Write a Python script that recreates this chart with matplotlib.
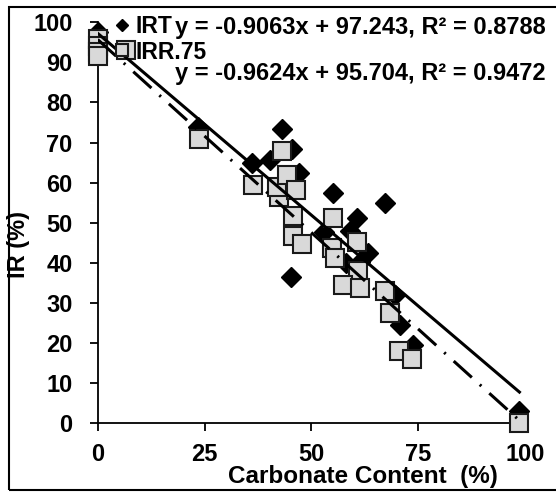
import numpy as np
import matplotlib.pyplot as plt
from matplotlib.patches import Rectangle

plt.rcParams["font.family"] = ["Liberation Sans", "DejaVu Sans"]
plt.rcParams["font.weight"] = "bold"

# IR total vs carbonate content
irt_x = [0, 23.5, 36.2, 40.4, 43.2, 45.5, 47.2, 45.3, 55.1, 60.7, 67.3,
         53.0, 59.0, 58.0, 61.4, 63.3, 69.5, 70.8, 73.9, 98.7]
irt_y = [97.5, 74.0, 65.0, 65.6, 73.3, 68.5, 62.3, 36.5, 57.4, 51.2, 54.9,
         47.7, 48.0, 40.0, 40.3, 42.5, 32.0, 24.5, 19.5, 3.0]

# IR residue at 0.75 vs carbonate content
irr_x = [0, 0, 0, 0, 6.7, 23.7, 36.4, 42.5, 42.0, 43.2, 44.2, 46.5, 45.8,
         45.8, 47.9, 55.1, 54.9, 55.5, 60.7, 61.0, 57.3, 61.4, 67.2, 68.5,
         70.5, 73.6, 98.7]
irr_y = [95.8, 94.0, 92.5, 91.6, 93.0, 71.0, 59.4, 56.5, 59.0, 67.9, 62.0,
         58.2, 51.8, 46.8, 44.8, 51.2, 43.7, 41.3, 45.2, 38.0, 34.4, 33.8,
         33.0, 27.6, 18.0, 16.0, 0.0]

# trendline coefficients (slope, intercept, R²)
irt_fit = (-0.9063, 97.243, 0.8788)
irr_fit = (-0.9624, 95.704, 0.9472)

fig = plt.figure(figsize=(5.56, 4.92), dpi=100)
ax = fig.add_axes([0.1757, 0.1396, 0.7685, 0.8151])

ax.plot(irt_x, irt_y, "D", ms=10, color="black", mec="black",
        clip_on=False, zorder=3, label="IRT")
ax.plot(irr_x, irr_y, "s", ms=13, mfc="#d9d9d9", mec="#1a1a1a", mew=1.5,
        clip_on=False, zorder=4, label="IRR.75")

xt = np.array([min(irt_x), max(irt_x)])
ax.plot(xt, irt_fit[0] * xt + irt_fit[1], color="black", lw=2.2, zorder=5)
xr = np.array([min(irr_x), max(irr_x)])
ax.plot(xr, irr_fit[0] * xr + irr_fit[1], color="black", lw=2.2,
        dashes=[8, 3.5, 0.7, 3.5], zorder=5)

ax.set_xlim(0, 100)
ax.set_ylim(0, 100)
ax.set_xticks([0, 25, 50, 75, 100])
ax.set_yticks(range(0, 101, 10))
for s in ("top", "right"):
    ax.spines[s].set_visible(False)
for s in ("left", "bottom"):
    ax.spines[s].set_linewidth(1.3)
ax.tick_params(axis="both", labelsize=17, width=1.3, length=6)
ax.tick_params(axis="x", pad=8)
ax.tick_params(axis="y", pad=12)

ax.set_xlabel("Carbonate Content  (%)", fontsize=17.5, fontweight="bold")
ax.xaxis.set_label_coords(0.62, -0.104)
ax.set_ylabel("IR (%)", fontsize=17, fontweight="bold")
ax.yaxis.set_label_coords(-0.158, 0.445)

ax.legend(loc="upper left", bbox_to_anchor=(0.205, 0.97),
          bbox_transform=fig.transFigure, frameon=False,
          prop={"size": 16.5, "weight": "bold"},
          markerscale=0.65, handlelength=0.7, handletextpad=0.25,
          labelspacing=0.12, borderpad=0, borderaxespad=0)

fig.text(0.982, 0.931,
         f"y = {irt_fit[0]}x + {irt_fit[1]}, R² = {irt_fit[2]}",
         ha="right", va="baseline", fontsize=17, fontweight="bold")
fig.text(0.982, 0.838,
         f"y = {irr_fit[0]}x + {irr_fit[1]}, R² = {irr_fit[2]}",
         ha="right", va="baseline", fontsize=17, fontweight="bold")

# outer frame
fig.patches.append(Rectangle((0.017, 0.004), 1.1, 0.982, fill=False,
                             lw=1.5, ec="black",
                             transform=fig.transFigure, figure=fig))

fig.savefig("out.png", dpi=100)
